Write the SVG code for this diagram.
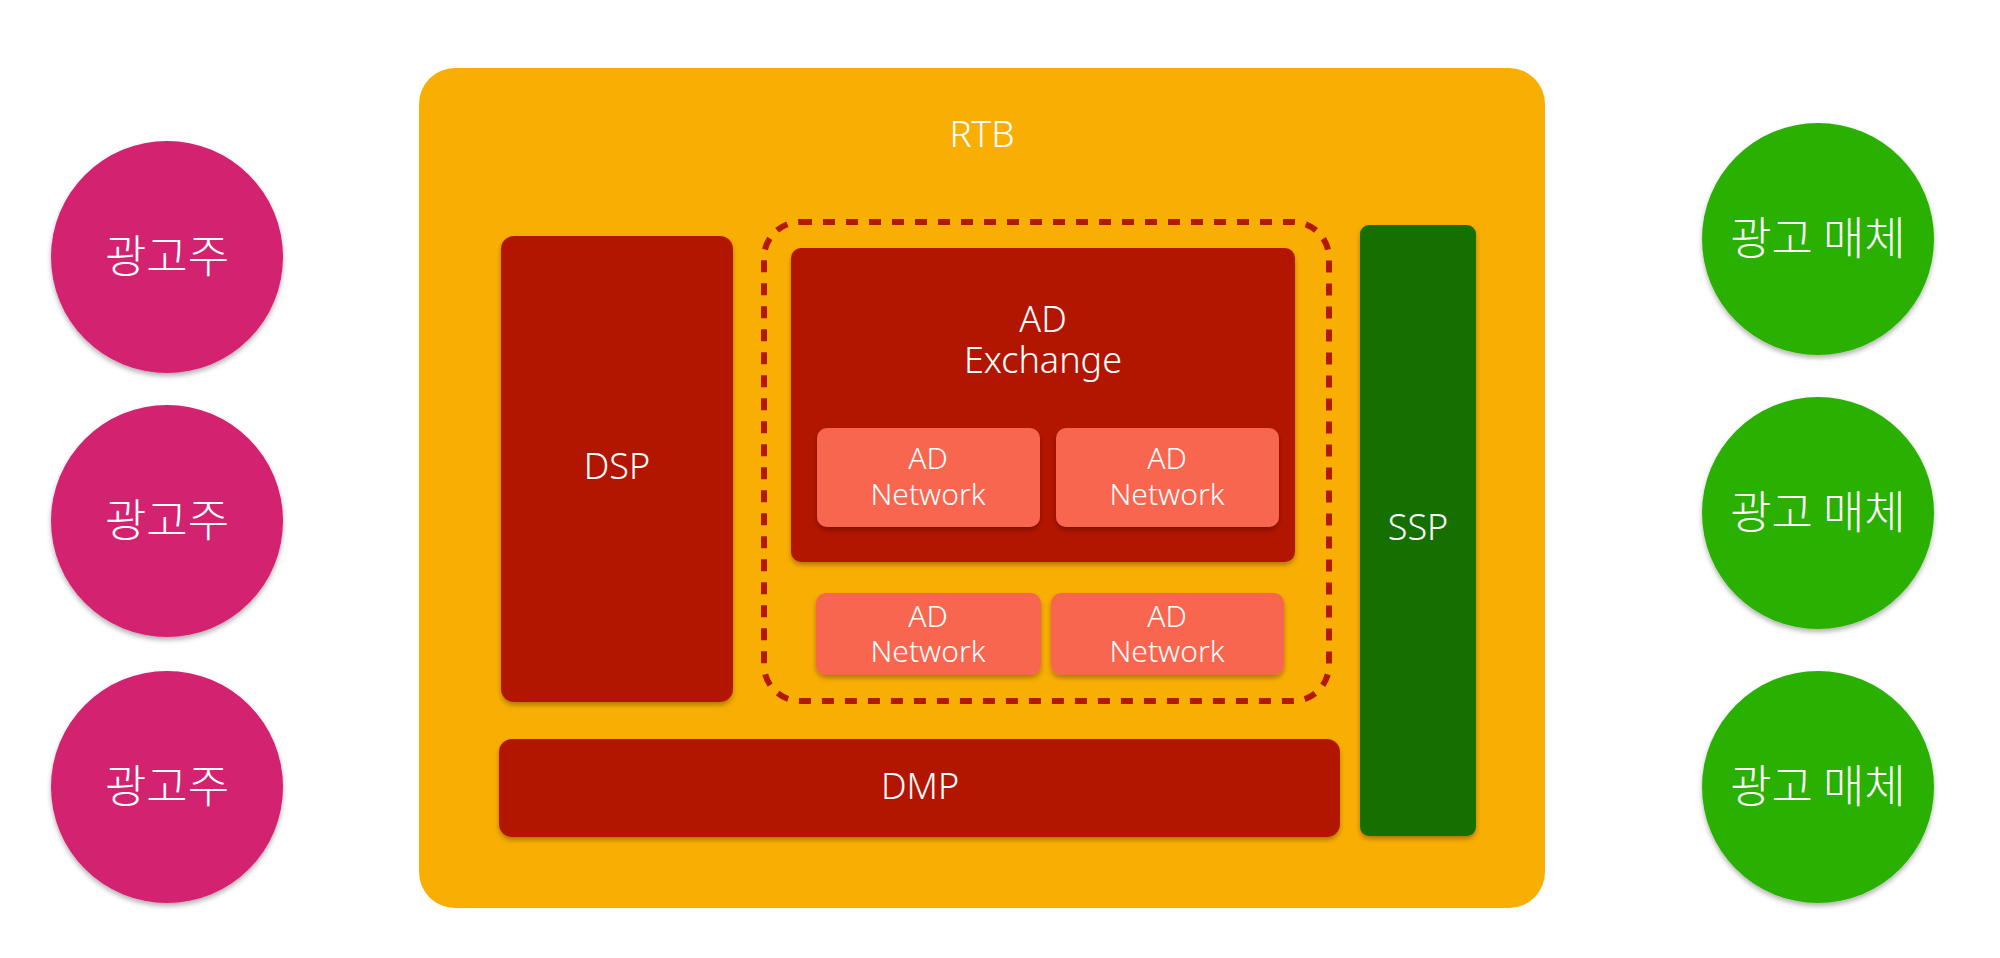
<svg xmlns="http://www.w3.org/2000/svg" width="2000" height="958" viewBox="0 0 2000 958">
<defs>
<filter id="sh" x="-20%" y="-20%" width="140%" height="140%">
<feDropShadow dx="0" dy="3" stdDeviation="2.5" flood-color="#000" flood-opacity="0.3"/>
</filter>
<style>
.lat{font-family:"Noto Sans","Open Sans","DejaVu Sans",sans-serif;font-weight:300;fill:#fff;text-anchor:middle}
.kr{font-family:"Noto Sans CJK KR","Noto Sans",sans-serif;font-weight:300;fill:#fff;text-anchor:middle;font-size:45px}
.red{fill:#B31800}
.net{fill:#F96650}
.adv{fill:#D3206F}
.pub{fill:#2CB000}
</style>
</defs>
<rect width="2000" height="958" fill="#fff"/>
<g id="rtb">
<rect x="419" y="68" width="1126" height="840" rx="36" fill="#F9AE03"/>
<text class="lat" x="982" y="147" font-size="37">RTB</text>
</g>
<g id="dsp">
<rect class="red" x="501" y="236" width="232" height="466" rx="13" filter="url(#sh)"/>
<text class="lat" x="617" y="479" font-size="36">DSP</text>
</g>
<g id="exchange-group">
<rect x="764" y="222" width="565" height="479" rx="36" fill="none" stroke="#B31800" stroke-width="6" stroke-dasharray="12 11"/>
</g>
<g id="adx">
<rect class="red" x="791" y="248" width="504" height="314" rx="10" filter="url(#sh)"/>
<text class="lat" x="1043" y="332" font-size="36">AD</text>
<text class="lat" x="1043" y="373" font-size="36">Exchange</text>
</g>
<g id="adn1">
<rect class="net" x="817" y="428" width="223" height="99" rx="10" filter="url(#sh)"/>
<text class="lat" x="928" y="469" font-size="30">AD</text>
<text class="lat" x="928" y="505" font-size="30">Network</text>
</g>
<g id="adn2">
<rect class="net" x="1056" y="428" width="223" height="99" rx="10" filter="url(#sh)"/>
<text class="lat" x="1167" y="469" font-size="30">AD</text>
<text class="lat" x="1167" y="505" font-size="30">Network</text>
</g>
<g id="adn3">
<rect class="net" x="816" y="593" width="225" height="82" rx="10" filter="url(#sh)"/>
<text class="lat" x="928" y="627" font-size="30">AD</text>
<text class="lat" x="928" y="662" font-size="30">Network</text>
</g>
<g id="adn4">
<rect class="net" x="1051" y="593" width="233" height="82" rx="10" filter="url(#sh)"/>
<text class="lat" x="1167" y="627" font-size="30">AD</text>
<text class="lat" x="1167" y="662" font-size="30">Network</text>
</g>
<g id="dmp">
<rect class="red" x="499" y="739" width="841" height="98" rx="13" filter="url(#sh)"/>
<text class="lat" x="920" y="799" font-size="36">DMP</text>
</g>
<g id="ssp">
<rect x="1360" y="225" width="116" height="611" rx="9" fill="#187000" filter="url(#sh)"/>
<text class="lat" x="1418" y="540" font-size="36">SSP</text>
</g>
<g id="adv1">
<circle class="adv" cx="167" cy="257" r="116" filter="url(#sh)"/>
<text class="kr" x="167" y="273">광고주</text>
</g>
<g id="adv2">
<circle class="adv" cx="167" cy="521" r="116" filter="url(#sh)"/>
<text class="kr" x="167" y="537">광고주</text>
</g>
<g id="adv3">
<circle class="adv" cx="167" cy="787" r="116" filter="url(#sh)"/>
<text class="kr" x="167" y="803">광고주</text>
</g>
<g id="pub1">
<circle class="pub" cx="1818" cy="239" r="116" filter="url(#sh)"/>
<text class="kr" x="1818" y="255">광고 매체</text>
</g>
<g id="pub2">
<circle class="pub" cx="1818" cy="513" r="116" filter="url(#sh)"/>
<text class="kr" x="1818" y="529">광고 매체</text>
</g>
<g id="pub3">
<circle class="pub" cx="1818" cy="787" r="116" filter="url(#sh)"/>
<text class="kr" x="1818" y="803">광고 매체</text>
</g>
<g id="connectors"></g>
</svg>
